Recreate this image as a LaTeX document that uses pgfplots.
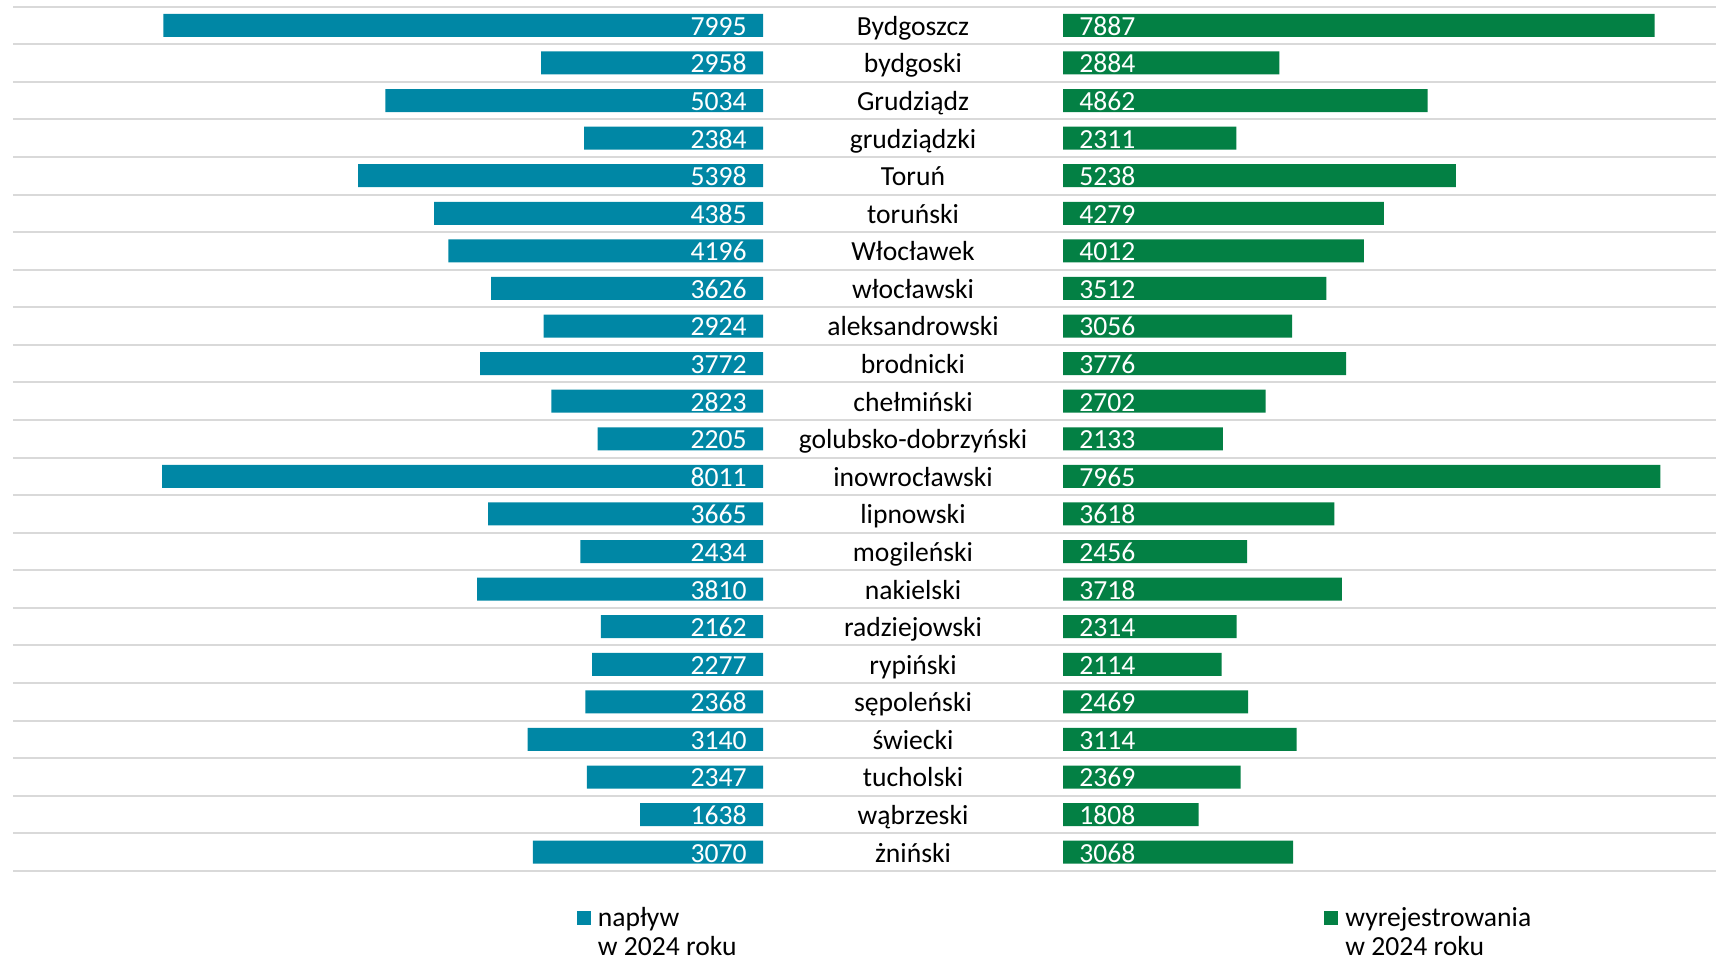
\documentclass[border=0pt]{standalone}
\usepackage{fontspec}
\setmainfont{Carlito}
\usepackage{pgfplots}
\usepackage{pgfplotstable}
\pgfplotsset{compat=1.18}

\definecolor{naplyw}{RGB}{0,135,165}
\definecolor{wyrej}{RGB}{3,128,68}
\definecolor{gridgray}{RGB}{217,217,217}

\pgfplotstableread{
i name inflow outflow
0 Bydgoszcz 7995 7887
1 bydgoski 2958 2884
2 Grudziądz 5034 4862
3 grudziądzki 2384 2311
4 Toruń 5398 5238
5 toruński 4385 4279
6 Włocławek 4196 4012
7 włocławski 3626 3512
8 aleksandrowski 2924 3056
9 brodnicki 3772 3776
10 chełmiński 2823 2702
11 golubsko-dobrzyński 2205 2133
12 inowrocławski 8011 7965
13 lipnowski 3665 3618
14 mogileński 2434 2456
15 nakielski 3810 3718
16 radziejowski 2162 2314
17 rypiński 2277 2114
18 sępoleński 2368 2469
19 świecki 3140 3114
20 tucholski 2347 2369
21 wąbrzeski 1638 1808
22 żniński 3070 3068
}\data

\pgfplotsset{
  half/.style={
    scale only axis, height=432.2pt,
    ymin=-0.5, ymax=22.5, y dir=reverse,
    xmin=0, xtick=\empty,
    axis line style={draw=none}, tick style={draw=none},
    clip=false,
  },
  numlabel/.style={
    draw=none, mark=none,
    point meta=explicit symbolic,
    nodes near coords={\pgfplotspointmeta},
    every node near coord/.append style={text=white, inner sep=0pt,
      text height=0.644em, text depth=0pt, yshift=-0.5pt},
  },
}

\begin{document}
\fontsize{13.8}{16.5}\selectfont
\begin{tikzpicture}
\useasboundingbox (0,0) rectangle (858pt,-480pt);
\foreach \k in {0,...,23}
  \draw[gridgray, line width=1pt] (6.5pt,{-3.3pt-18.79pt*\k}) -- (858pt,{-3.3pt-18.79pt*\k});

% napływ (left, reversed)
\begin{axis}[half, at={(6.5pt,-3.3pt)}, anchor=north west, width=375pt,
  xmax=10000, x dir=reverse, ytick=\empty]
  \addplot[xbar, fill=naplyw, draw=none, bar width=11.5pt] table[x=inflow, y=i] {\data};
  \addplot[numlabel, every node near coord/.append style={anchor=east, xshift=-8pt}]
    table[x expr=0, y=i, meta=inflow] {\data};
\end{axis}

% wyrejestrowania (right)
\begin{axis}[half, at={(531.5pt,-3.3pt)}, anchor=north west, width=326.5pt,
  xmax=8707, ytick=data, yticklabels from table={\data}{name},
  yticklabel style={anchor=center, xshift=-75pt, yshift=-0.5pt, inner sep=0pt,
    text height=0.644em, text depth=0pt}]
  \addplot[xbar, fill=wyrej, draw=none, bar width=11.5pt] table[x=outflow, y=i] {\data};
  \addplot[numlabel, every node near coord/.append style={anchor=west, xshift=8pt}]
    table[x expr=0, y=i, meta=outflow] {\data};
\end{axis}

% legend
\fill[naplyw] (288.5pt,-455.3pt) rectangle (295.5pt,-462.5pt);
\node[anchor=base west, inner sep=0pt] at (298.75pt,-463pt) {napływ};
\node[anchor=base west, inner sep=0pt] at (298.75pt,-477.5pt) {w 2024 roku};
\fill[wyrej] (662pt,-455.3pt) rectangle (669pt,-462.5pt);
\node[anchor=base west, inner sep=0pt] at (672.5pt,-463pt) {wyrejestrowania};
\node[anchor=base west, inner sep=0pt] at (672.5pt,-477.5pt) {w 2024 roku};
\end{tikzpicture}
\end{document}
